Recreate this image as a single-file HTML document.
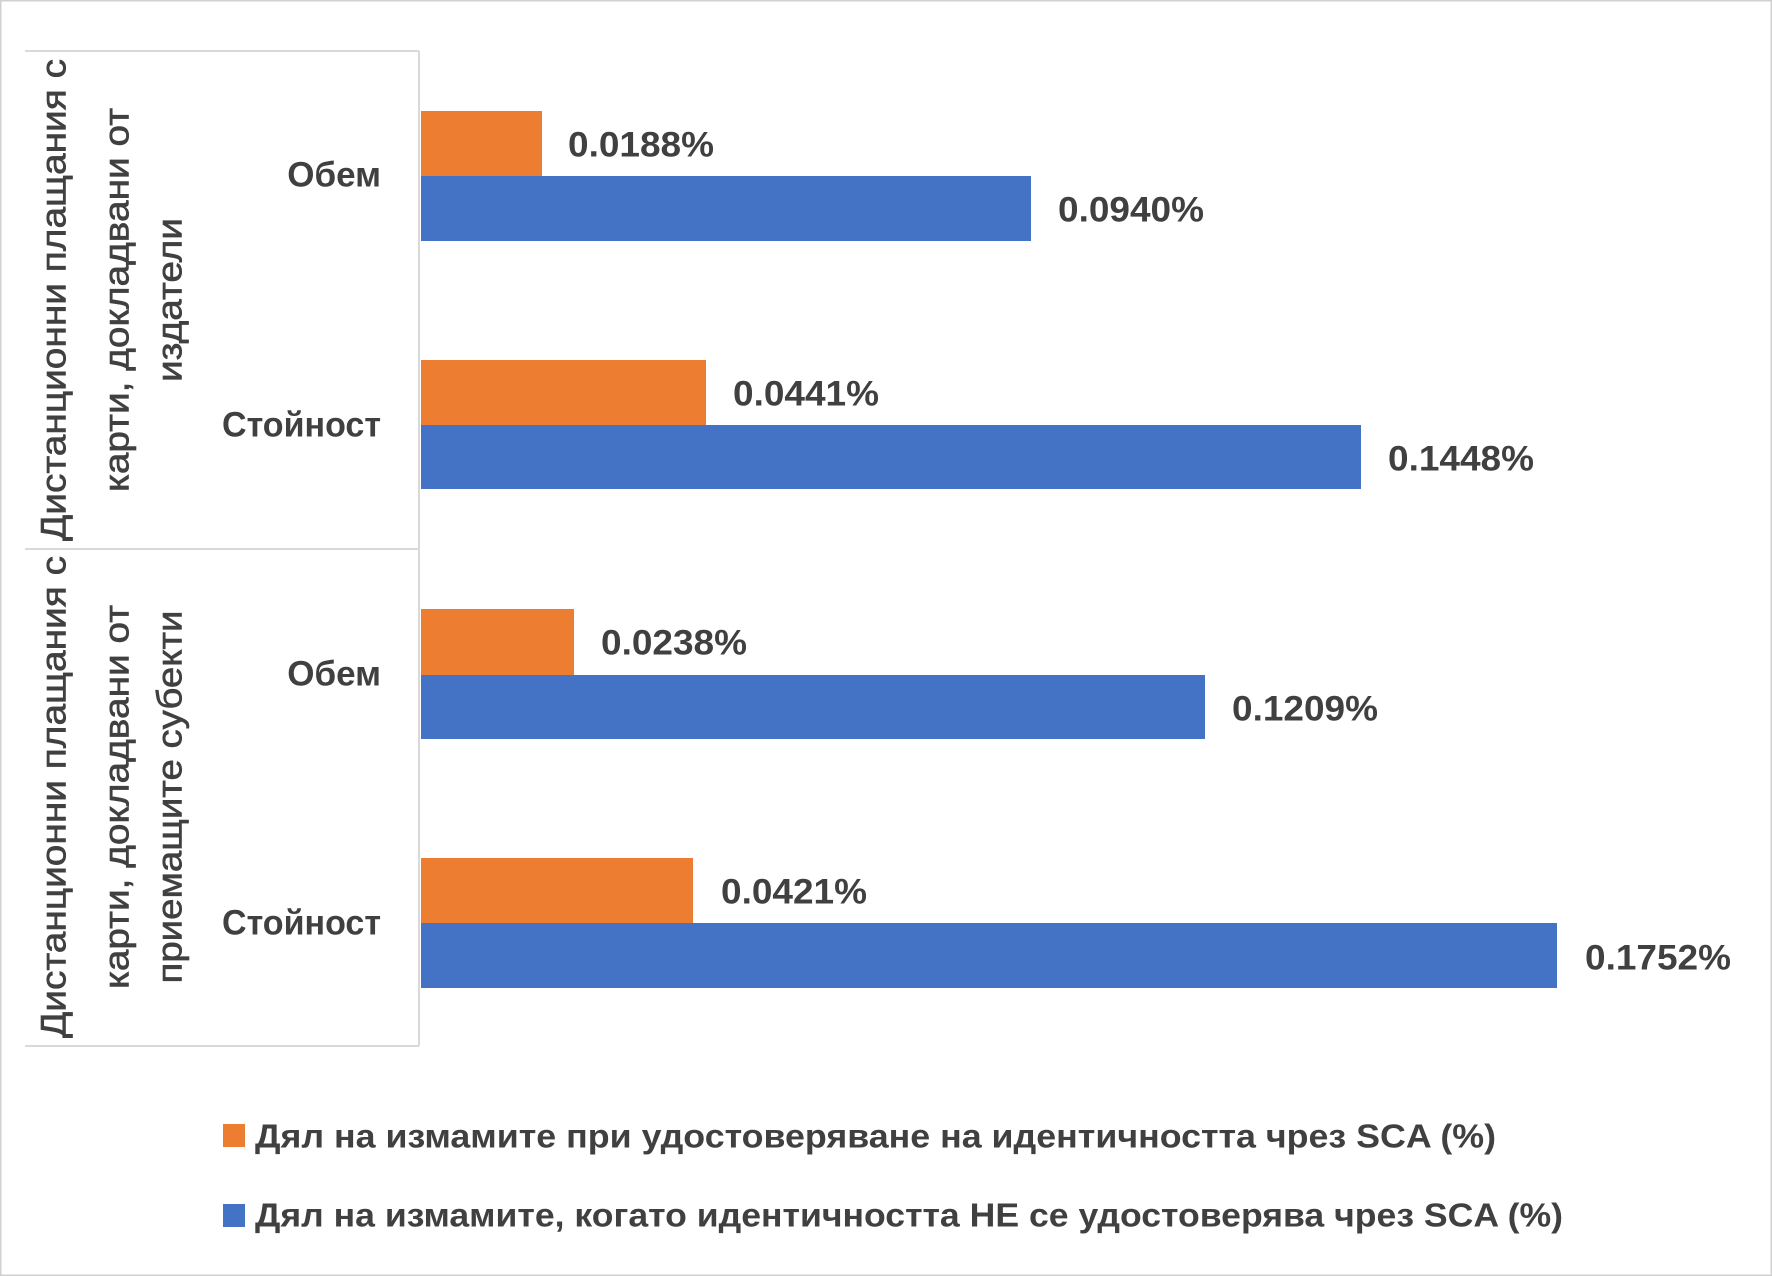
<!DOCTYPE html>
<html><head><meta charset="utf-8"><style>html,body{margin:0;padding:0;background:#fff}svg{display:block}</style></head>
<body>
<svg width="1772" height="1276" viewBox="0 0 1772 1276" xmlns="http://www.w3.org/2000/svg" font-family="Liberation Sans, DejaVu Sans, sans-serif">
<rect x="0.5" y="0.5" width="1771" height="1275" fill="#fff" stroke="#d0d0d0" stroke-width="2"/>
<g stroke="#d9d9d9" stroke-width="2">
<line x1="419" y1="51" x2="419" y2="1046"/>
<line x1="25" y1="51" x2="419" y2="51"/>
<line x1="25" y1="549" x2="419" y2="549"/>
<line x1="25" y1="1046" x2="419" y2="1046"/>
</g>
<g fill="#ED7D31">
<rect x="421" y="111" width="121" height="65"/>
<rect x="421" y="360" width="285" height="65"/>
<rect x="421" y="609" width="153" height="66"/>
<rect x="421" y="858" width="272" height="65"/>
</g>
<g fill="#4472C4">
<rect x="421" y="176" width="610" height="65"/>
<rect x="421" y="425" width="940" height="64"/>
<rect x="421" y="675" width="784" height="64"/>
<rect x="421" y="923" width="1136" height="65"/>
</g>
<g fill="#404040" font-size="35" font-weight="bold" dominant-baseline="central">
<text x="568" y="145" textLength="146" lengthAdjust="spacingAndGlyphs">0.0188%</text>
<text x="1058" y="210" textLength="146" lengthAdjust="spacingAndGlyphs">0.0940%</text>
<text x="733" y="394" textLength="146" lengthAdjust="spacingAndGlyphs">0.0441%</text>
<text x="1388" y="459" textLength="146" lengthAdjust="spacingAndGlyphs">0.1448%</text>
<text x="601" y="643" textLength="146" lengthAdjust="spacingAndGlyphs">0.0238%</text>
<text x="1232" y="709" textLength="146" lengthAdjust="spacingAndGlyphs">0.1209%</text>
<text x="721" y="892" textLength="146" lengthAdjust="spacingAndGlyphs">0.0421%</text>
<text x="1585" y="958" textLength="146" lengthAdjust="spacingAndGlyphs">0.1752%</text>
</g>
<g fill="#404040" font-size="35" font-weight="bold" text-anchor="end" dominant-baseline="central">
<text x="381" y="175">Обем</text>
<text x="381" y="425" textLength="159" lengthAdjust="spacingAndGlyphs">Стойност</text>
<text x="381" y="674">Обем</text>
<text x="381" y="923" textLength="159" lengthAdjust="spacingAndGlyphs">Стойност</text>
</g>
<g fill="#404040" font-size="35" text-anchor="middle" dominant-baseline="central" stroke="#404040" stroke-width="0.6">
<g transform="translate(54,300) rotate(-90)"><text x="0" y="0" textLength="482" lengthAdjust="spacingAndGlyphs">Дистанционни плащания с</text></g>
<g transform="translate(117,300) rotate(-90)"><text x="0" y="0" textLength="384" lengthAdjust="spacingAndGlyphs">карти, докладвани от</text></g>
<g transform="translate(170,300) rotate(-90)"><text x="0" y="0" textLength="164" lengthAdjust="spacingAndGlyphs">издатели</text></g>
<g transform="translate(54,797) rotate(-90)"><text x="0" y="0" textLength="482" lengthAdjust="spacingAndGlyphs">Дистанционни плащания с</text></g>
<g transform="translate(117,797) rotate(-90)"><text x="0" y="0" textLength="384" lengthAdjust="spacingAndGlyphs">карти, докладвани от</text></g>
<g transform="translate(170,797) rotate(-90)"><text x="0" y="0" textLength="373" lengthAdjust="spacingAndGlyphs">приемащите субекти</text></g>
</g>
<rect x="223" y="1124" width="22" height="23" fill="#ED7D31"/>
<rect x="223" y="1204" width="22" height="23" fill="#4472C4"/>
<g fill="#404040" font-size="33" font-weight="bold" dominant-baseline="central">
<text x="255" y="1136" textLength="1241" lengthAdjust="spacingAndGlyphs">Дял на измамите при удостоверяване на идентичността чрез SCA (%)</text>
<text x="255" y="1215" textLength="1308" lengthAdjust="spacingAndGlyphs">Дял на измамите, когато идентичността НЕ се удостоверява чрез SCA (%)</text>
</g>
</svg>
</body></html>
